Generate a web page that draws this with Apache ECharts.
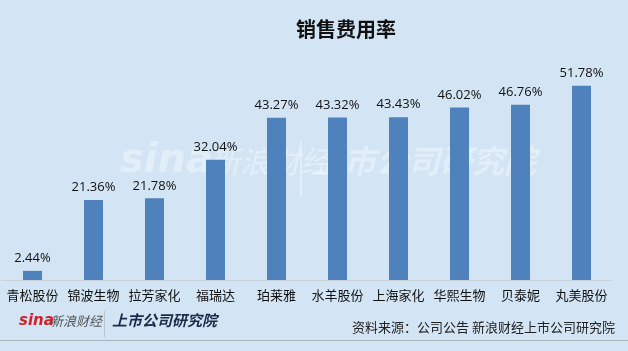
<!DOCTYPE html>
<html><head><meta charset="utf-8">
<script src="https://cdn.jsdelivr.net/npm/echarts@6/dist/echarts.min.js"></script>
<style>html,body{margin:0;padding:0;background:#d3e5f4}#c{width:628px;height:351px}</style>
</head><body><div id="c"></div>
<script>
const categories = ['青松股份','锦波生物','拉芳家化','福瑞达','珀莱雅','水羊股份','上海家化','华熙生物','贝泰妮','丸美股份'];
const values = [2.44, 21.36, 21.78, 32.04, 43.27, 43.32, 43.43, 46.02, 46.76, 51.78];
const titleText = '销售费用率';
const sourceText = '资料来源：公司公告 新浪财经上市公司研究院';

const chart = echarts.init(document.getElementById('c'));
chart.setOption({
  backgroundColor: '#d3e5f4',
  animation: false,
  title: {
    text: titleText, left: 341, top: 14, textAlign: 'center',
    textStyle: {fontSize: 20, fontWeight: 'bold', color: '#111', fontFamily: 'Noto Sans CJK SC'}
  },
  grid: {left: 2, right: 16, top: 55, bottom: 71},
  xAxis: {
    type: 'category', data: categories,
    axisLine: {lineStyle: {color: '#c8d2da', width: 1}},
    axisTick: {show: false},
    axisLabel: {color: '#111', fontSize: 13, margin: 9, fontFamily: 'Noto Sans CJK SC', interval: 0}
  },
  yAxis: {type: 'value', min: 0, max: 60, show: false, splitLine: {show: false}},
  series: [{
    type: 'bar', data: values, barWidth: 19,
    itemStyle: {color: '#4f81bd'},
    label: {show: true, position: 'top', distance: 6, color: '#111', fontSize: 13,
      fontFamily: 'Open Sans', formatter: p => p.value.toFixed(2) + '%'}
  }],
  graphic: [
    // watermark
    {type: 'text', left: 120, top: 142, silent: true, z: 0,
      style: {text: 'sina', fill: 'rgba(255,255,255,0.35)', font: 'italic bold 40px "DejaVu Sans"'}},
    {type: 'text', left: 210, top: 147, silent: true, z: 0,
      style: {text: '新浪财经', fill: 'rgba(255,255,255,0.35)', font: 'italic 30px "Noto Sans CJK SC"'}},
    {type: 'rect', left: 300, top: 142, silent: true, z: 0, shape: {width: 2, height: 55}, style: {fill: 'rgba(255,255,255,0.35)'}},
    {type: 'text', left: 312, top: 145, silent: true, z: 0,
      style: {text: '上市公司研究院', fill: 'rgba(255,255,255,0.35)', font: 'italic bold 32px "Noto Sans CJK SC"'}},
    // footer logo
    {type: 'text', left: 19, top: 314, style: {text: 'sina', fill: '#d0202a', font: 'italic bold 15px "DejaVu Sans"'}},
    {type: 'text', left: 50, top: 315, style: {text: '新浪财经', fill: '#555', font: 'italic 13px "Noto Sans CJK SC"'}},
    {type: 'rect', left: 104, top: 311, shape: {width: 1, height: 26}, style: {fill: '#b8c4ce'}},
    {type: 'text', left: 112, top: 313, style: {text: '上市公司研究院', fill: '#1c2a48', font: 'italic bold 15px "Noto Sans CJK SC"'}},
    // source
    {type: 'text', right: 13, top: 321, style: {text: sourceText, fill: '#222', font: '13px "Noto Sans CJK SC"'}},
    // bottom line
    {type: 'rect', left: 0, top: 340, shape: {width: 628, height: 1}, style: {fill: '#a9b4bd'}}
  ]
});
</script></body></html>
